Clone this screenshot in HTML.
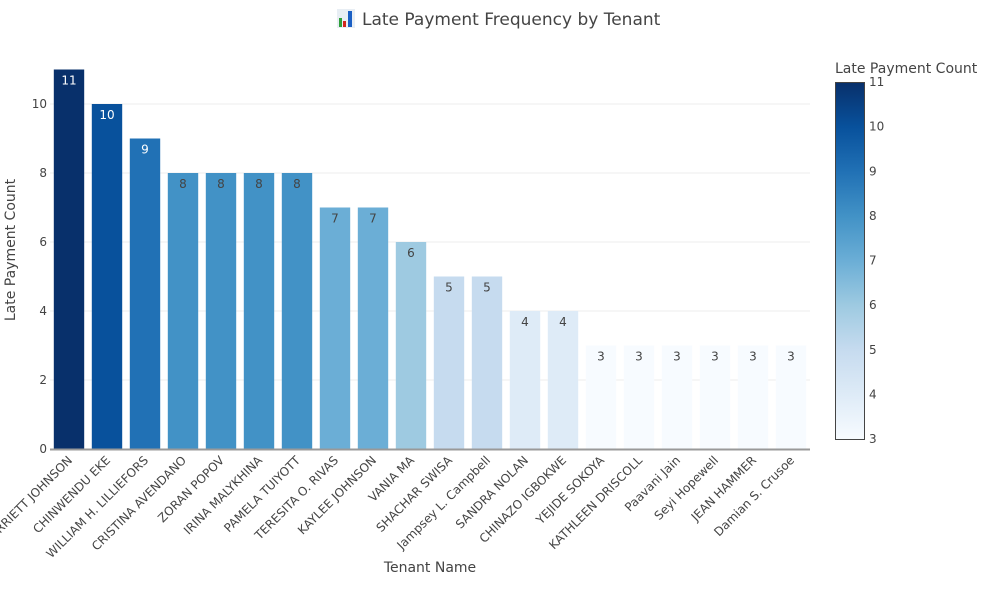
<!DOCTYPE html>
<html><head><meta charset="utf-8"><style>body{margin:0;background:#fff}svg{font-family:"DejaVu Sans","Liberation Sans",sans-serif}</style></head>
<body>
<svg id="c" width="1000" height="600" viewBox="0 0 1000 600">
<defs><linearGradient id="cb" x1="0" y1="1" x2="0" y2="0">
<stop offset="0" stop-color="rgb(247,251,255)"/><stop offset=".125" stop-color="rgb(222,235,247)"/><stop offset=".25" stop-color="rgb(198,219,239)"/><stop offset=".375" stop-color="rgb(158,202,225)"/><stop offset=".5" stop-color="rgb(107,174,214)"/><stop offset=".625" stop-color="rgb(66,146,198)"/><stop offset=".75" stop-color="rgb(33,113,181)"/><stop offset=".875" stop-color="rgb(8,81,156)"/><stop offset="1" stop-color="rgb(8,48,107)"/></linearGradient>
<clipPath id="lc"><rect x="0" y="440" width="1000" height="160"/></clipPath></defs>
<g>
<rect x="337" y="9" width="18" height="19" fill="#e8eef4"/><rect x="339" y="18" width="3" height="9" fill="#2e9e3a"/><rect x="343" y="21" width="3" height="6" fill="#d0261d"/><rect x="348" y="11" width="4" height="16" fill="#1a5fc4"/>
<text x="362" y="25" font-size="17" fill="#444">Late Payment Frequency by Tenant</text></g>
<g id="grid"></g><g id="bars"></g><g id="xl" clip-path="url(#lc)"></g><g id="yl"></g>
<text x="430" y="572" font-size="14" fill="#444" text-anchor="middle">Tenant Name</text>
<text transform="translate(15,250) rotate(-90)" font-size="14" fill="#444" text-anchor="middle">Late Payment Count</text>
<g>
<text x="835" y="73" font-size="14" fill="#444">Late Payment Count</text>
<rect x="835.5" y="82.5" width="29" height="357" fill="url(#cb)" stroke="#444" stroke-width="1"/>
<g id="cbt"></g></g>
</svg>
<script>
const categories=["HARRIETT JOHNSON","CHINWENDU EKE","WILLIAM H. LILLIEFORS","CRISTINA AVENDANO","ZORAN POPOV","IRINA MALYKHINA","PAMELA TUIYOTT","TERESITA O. RIVAS","KAYLEE JOHNSON","VANIA MA","SHACHAR SWISA","Jampsey  L. Campbell","SANDRA NOLAN","CHINAZO IGBOKWE","YEJIDE SOKOYA","KATHLEEN DRISCOLL","Paavani Jain","Seyi Hopewell","JEAN HAMMER","Damian S. Crusoe"];
const counts=[11,10,9,8,8,8,8,7,7,6,5,5,4,4,3,3,3,3,3,3];
const yTicks=[0,2,4,6,8,10];
const cbTicks=[3,4,5,6,7,8,9,10,11];
const NS="http://www.w3.org/2000/svg";
const x0=50,x1=810,y0=449,yPer=34.5;
const band=(x1-x0)/categories.length;
const xs=i=>x0+band*(i+0.5);
const ys=v=>y0-v*yPer;
const stops=[[247,251,255],[222,235,247],[198,219,239],[158,202,225],[107,174,214],[66,146,198],[33,113,181],[8,81,156],[8,48,107]];
const cmin=Math.min(...counts),cmax=Math.max(...counts);
function col(v){let t=(v-cmin)/(cmax-cmin)*8;let i=Math.min(7,Math.floor(t)),f=t-i;const a=stops[i],b=stops[i+1];return `rgb(${a.map((c,k)=>Math.round(c+(b[k]-c)*f)).join(',')})`;}
function mk(p,tag,at,txt){const e=document.createElementNS(NS,tag);for(const k in at)e.setAttribute(k,at[k]);if(txt!=null)e.textContent=txt;document.getElementById(p).appendChild(e);return e;}
yTicks.forEach(t=>{
 if(t>0){const g=mk('grid','line',{x1:x0,x2:x1,y1:ys(t),y2:ys(t),stroke:'#eee'});
 
 }
 const l=mk('yl','text',{x:x0-3,y:ys(t)+4,'font-size':12,fill:'#444','text-anchor':'end'},t);
 
 
});
counts.forEach((v,i)=>{
 const w=band*0.8,cx=xs(i);
 const r=mk('bars','rect',{x:cx-w/2,y:ys(v),width:w,height:y0-ys(v),fill:col(v)});
 
 
 const t=mk('bars','text',{x:cx,y:ys(v)+15,'font-size':12,'text-anchor':'middle',fill:v>=9?'#fff':'#444'},v);
 
 
 const l=mk('xl','text',{transform:`translate(${cx+4},${y0+12}) rotate(-45)`,'font-size':12,fill:'#444','text-anchor':'end'},categories[i]);
 
 
});
const ax=mk('bars','line',{x1:x0,x2:x1,y1:y0+0.5,y2:y0+0.5,stroke:'#999','stroke-width':2});


cbTicks.forEach(t=>{
 const y=439-(t-cmin)/(cmax-cmin)*357;
 const l=mk('cbt','text',{x:869,y:y+4,'font-size':12,fill:'#444'},t);
 
 
});
</script>
</body></html>
